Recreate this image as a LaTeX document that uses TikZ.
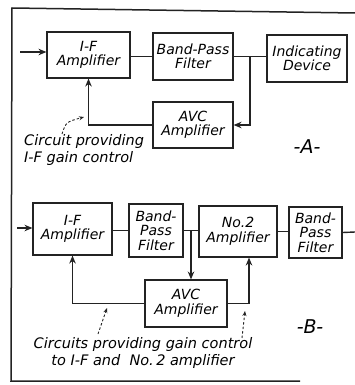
\documentclass[tikz,border=0pt]{standalone}
\usepackage{fontspec}
\setmainfont{DejaVu Sans}
\usepackage{xcolor}
\usepackage{tikz}
\usetikzlibrary{arrows.meta,calc}
\definecolor{figline}{RGB}{35,35,35}
\tikzset{
  blk/.style  ={draw=figline, line width=1.1pt, align=center, inner sep=1pt,
                font=\fontsize{14}{14.5}\selectfont\itshape},
  wire/.style ={draw=figline, line width=1.4pt},
  ptr/.style  ={wire, -{Stealth[length=8pt,width=6.5pt]}},
  hint/.style ={draw=figline, line width=0.9pt, dash pattern=on 2.5pt off 2pt,
                -{Stealth[length=5pt,width=4pt]}},
  lab/.style  ={font=\fontsize{14.5}{17}\selectfont\itshape, inner sep=0pt},
  partlab/.style ={font=\fontsize{19}{20}\selectfont\itshape, inner sep=0pt},
  frm/.style  ={draw=figline, line width=1.5pt},
}

\begin{document}
\begin{tikzpicture}[x=1pt,y=-1pt]
  \useasboundingbox (0,0) rectangle (355,385);
  \draw[frm] (355,13) -- (12,8) -- (11,381) -- (300,381);

  \node[blk,minimum width=83pt,minimum height=46pt] (ifA) at (88.5,55) {I-F\\Amplifier};
  \node[blk,minimum width=80pt,minimum height=47pt] (bpA) at (193,56.5) {Band-Pass\\Filter};
  \node[blk,minimum width=80pt,minimum height=47pt] (indA) at (307,58.5) {Indicating\\Device};
  \node[blk,minimum width=80pt,minimum height=46pt] (avcA) at (193,125) {AVC\\Amplifier};
  \coordinate (inA) at (20,52);
  \coordinate (jA) at (250,57);
  \draw[ptr] (inA) -- (inA -| ifA.west);
  \draw[wire] (ifA.east |- bpA.west) -- (bpA.west);
  \draw[wire] (bpA.east) -- (bpA.east -| indA.west);
  \draw[ptr] (jA) |- (avcA.east);
  \draw[ptr] (avcA.west) -| (ifA.south);
  \node[lab,anchor=north west,align=left] (noteA) at (24,134) {Circuit providing\\I-F gain control};
  \coordinate (tA) at (84,117);
  \draw[hint] ([xshift=38pt]noteA.north west) .. controls (66,122) .. (tA);
  \node[partlab] (capA) at (307,147) {-A-};

  \node[blk,minimum width=79pt,minimum height=52pt] (ifB) at (72.5,229) {I-F\\Amplifier};
  \node[blk,minimum width=54pt,minimum height=53pt] (bpB) at (156,230.5) {Band-\\Pass\\Filter};
  \node[blk,minimum width=78pt,minimum height=51pt] (no2B) at (238,231.5) {No.2\\Amplifier};
  \node[blk,minimum width=53pt,minimum height=51pt] (bp2B) at (315.5,232.5) {Band-\\Pass\\Filter};
  \node[blk,minimum width=82pt,minimum height=47pt] (avcB) at (186,303.5) {AVC\\Amplifier};
  \coordinate (inB) at (17,228);
  \coordinate (outB) at (355,232);
  \coordinate (jB) at (191,230);
  \draw[ptr] (inB) -- (inB -| ifB.west);
  \draw[wire] (ifB.east |- bpB.west) -- (bpB.west);
  \draw[wire] (bpB.east) -- (bpB.east -| no2B.west);
  \draw[wire] (no2B.east) -- (no2B.east -| bp2B.west);
  \draw[wire] (bp2B.east) -- (outB);
  \draw[ptr] (jB) -- (jB |- avcB.north);
  \draw[ptr] (avcB.west) -| (ifB.south);
  \draw[ptr] (avcB.east) -| ([xshift=11pt]no2B.south);
  \node[lab,align=center] (noteB) at (143,353) {Circuits providing gain control\\to I-F and \ No.\,2 amplifier};
  \coordinate (tB1) at (107,308);
  \coordinate (tB2) at (245,311);
  \draw[hint] (98,334) -- (tB1);
  \draw[hint] (242,338) -- (tB2);
  \node[partlab] (capB) at (310,327) {-B-};
\end{tikzpicture}
\end{document}
